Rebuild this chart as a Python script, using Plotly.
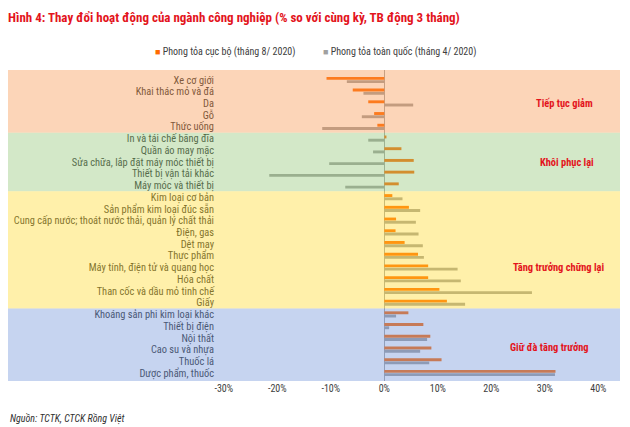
import plotly.graph_objects as go

categories = [
    "Xe cơ giới", "Khai thác mỏ và đá", "Da", "Gỗ", "Thức uống",
    "In và tái chế băng đĩa", "Quần áo may mặc", "Sửa chữa, lắp đặt máy móc thiết bị",
    "Thiết bị vận tải khác", "Máy móc và thiết bị",
    "Kim loại cơ bản", "Sản phẩm kim loại đúc sẵn", "Cung cấp nước; thoát nước thải, quản lý chất thải",
    "Điện, gas", "Dệt may", "Thực phẩm", "Máy tính, điện tử và quang học", "Hóa chất",
    "Than cốc và dầu mỏ tinh chế", "Giấy",
    "Khoáng sản phi kim loại khác", "Thiết bị điện", "Nội thất", "Cao su và nhựa",
    "Thuốc lá", "Dược phẩm, thuốc",
]
local_aug2020 = [
    -10.8, -5.9, -3.0, -1.9, -1.3,
    0.4, 3.2, 5.5, 5.6, 2.7,
    1.5, 4.6, 2.2, 2.1, 3.8, 6.3, 8.2, 8.2, 10.3, 11.7,
    4.5, 7.3, 8.6, 8.8, 10.7, 32.0,
]
national_apr2020 = [
    -7.0, -3.9, 5.4, -4.2, -11.6,
    -3.0, -2.1, -10.3, -21.5, -7.3,
    3.4, 6.7, 5.9, 6.4, 7.2, 7.4, 13.7, 14.3, 27.6, 15.1,
    2.2, 0.9, 8.0, 6.7, 8.4, 31.9,
]
group_names = ["Tiếp tục giảm", "Khôi phục lại", "Tăng trưởng chững lại", "Giữ đà tăng trưởng"]
group_sizes = [5, 5, 10, 6]
x_ticks = [-30, -20, -10, 0, 10, 20, 30, 40]
x_ticklabels = ["-30%", "-20%", "-10%", "0%", "10%", "20%", "30%", "40%"]
series_names = ["Phong tỏa cục bộ (tháng 8/ 2020)", "Phong tỏa toàn quốc (tháng 4/ 2020)"]

W, H = 630, 427
ML, MR, MT, MB = 218, 10, 70, 46
PW, PH = W - ML - MR, H - MT - MB

def px_x(p):
    return (p - ML) / PW

def px_y(p):
    return (H - MB - p) / PH

FONT = "Liberation Sans Narrow, Arial Narrow, Roboto Condensed, sans-serif"
ORANGE = "#FF6A00"
GREY = "#A0A0A0"
RED = "#E3141C"

fig = go.Figure()
fig.add_trace(go.Bar(y=categories, x=local_aug2020, orientation="h", name=series_names[0],
                     marker=dict(color=ORANGE, line=dict(width=0)), showlegend=False))
fig.add_trace(go.Bar(y=categories, x=national_apr2020, orientation="h", name=series_names[1],
                     marker=dict(color=GREY, line=dict(width=0)), showlegend=False))

y_top, y_bot = -0.85, 25.68
band_colors = ["rgb(247,150,77)", "rgb(145,197,117)", "rgb(255,217,42)", "rgb(112,147,217)"]
label_pos = [(33.6, 2.0), (34.1, 7.0), (32.6, 16.0), (30.8, 22.8)]
shapes = []
annotations = []
start = 0
for i, (gname, size) in enumerate(zip(group_names, group_sizes)):
    y0 = y_top if i == 0 else start - 0.5
    y1 = y_bot if i == len(group_sizes) - 1 else start + size - 0.5
    shapes.append(dict(type="rect", xref="paper", yref="y", x0=px_x(8), x1=px_x(620),
                       y0=y0, y1=y1, fillcolor=band_colors[i], opacity=0.4,
                       line=dict(width=0), layer="above"))
    annotations.append(dict(x=label_pos[i][0], y=label_pos[i][1], xref="x", yref="y",
                            text="<b>" + gname + "</b>", showarrow=False,
                            font=dict(family=FONT, size=10.4, color=RED)))
    start += size

# legend (manual)
annotations.append(dict(x=px_x(153), y=px_y(52), xref="paper", yref="paper", xanchor="left",
                        yanchor="middle", showarrow=False,
                        text="<span style='color:%s;font-size:9px'>■</span> %s" % (ORANGE, series_names[0]),
                        font=dict(family=FONT, size=10, color="#404040")))
annotations.append(dict(x=px_x(321), y=px_y(52), xref="paper", yref="paper", xanchor="left",
                        yanchor="middle", showarrow=False,
                        text="<span style='color:%s;font-size:9px'>■</span> %s" % (GREY, series_names[1]),
                        font=dict(family=FONT, size=10, color="#404040")))
# source
annotations.append(dict(x=px_x(8), y=px_y(418), xref="paper", yref="paper", xanchor="left",
                        yanchor="middle", showarrow=False, text="<i>Nguồn: TCTK, CTCK Rồng Việt</i>",
                        font=dict(family=FONT, size=10, color="#303030")))

fig.update_layout(
    width=W, height=H,
    margin=dict(l=ML, r=MR, t=MT, b=MB, pad=0),
    paper_bgcolor="white", plot_bgcolor="rgba(0,0,0,0)",
    barmode="group", bargap=0.45, bargroupgap=0.1,
    title=dict(text="<b>Hình 4: Thay đổi hoạt động của ngành công nghiệp (% so với cùng kỳ, TB động 3 tháng)</b>",
               x=8 / W, xanchor="left", xref="container", y=1 - 17 / H, yanchor="middle", yref="container",
               font=dict(family=FONT, size=13, color=RED)),
    font=dict(family=FONT, size=10, color="#404040"),
    shapes=shapes, annotations=annotations,
    showlegend=False,
)
fig.update_xaxes(range=[(ML - 384.3) / 5.35, (ML + PW - 384.3) / 5.35], tickvals=x_ticks, ticktext=x_ticklabels,
                 showgrid=False, zeroline=True, zerolinecolor="#A6A6A6", zerolinewidth=1,
                 showline=False, ticks="", tickfont=dict(family=FONT, size=10, color="#404040"))
fig.update_yaxes(type="category", range=[y_bot, y_top], tickmode="array", tickvals=categories,
                 ticktext=categories, showgrid=False, zeroline=False, showline=False,
                 ticks="", ticklabelstandoff=3, tickfont=dict(family=FONT, size=10.4, color="#303030"))

fig.write_html("out.html", config={"displayModeBar": False},
               post_script="document.body.style.margin='0';document.body.style.overflow='hidden';")
